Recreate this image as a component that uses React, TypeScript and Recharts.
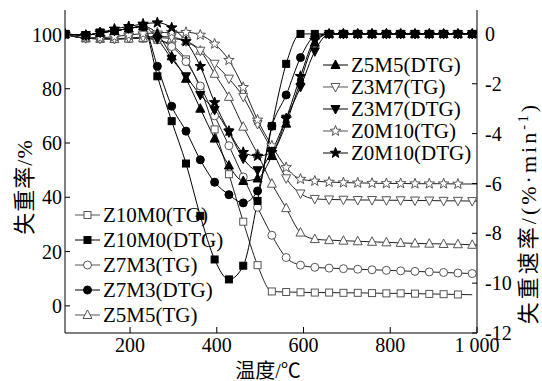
import React from 'react';
import { ComposedChart, Line, XAxis, YAxis } from 'recharts';

// temperature grid (°C), one marker per point
const temps = [50, 98, 131, 164, 197, 230, 263, 296, 329, 362, 395, 428, 461, 494, 527, 560, 593, 626, 659, 692, 725, 758, 791, 824, 857, 890, 923, 956, 989, 1000];

const tempTicks = [200, 400, 600, 800, 1000];
const tgTicks = [0, 20, 40, 60, 80, 100];
const dtgTicks = [0, -2, -4, -6, -8, -10, -12];

// TG curves (mass remaining, %)
const z10m0TG = [100, 98.6, 98.4, 98.3, 98.5, 98.5, 98, 96, 90.8, 80, 65, 48.5, 31, 15, 5.3, 5.1, 5.0, 4.9, 4.9, 4.8, 4.8, 4.7, 4.6, 4.6, 4.5, 4.4, 4.3, 4.2, 4.1, null];
const z7m3TG = [100, 98.6, 98.4, 98.3, 98.5, 98.6, 98, 95.5, 90, 81, 70, 59, 47.5, 36.3, 26, 17.8, 15, 14.2, 13.9, 13.7, 13.5, 13.3, 13.1, 12.9, 12.7, 12.5, 12.3, 12.1, 11.9, 11.8];
const z5m5TG = [100, 98.6, 98.4, 98.3, 98.5, 98.7, 98.8, 98.5, 97.5, 94, 85.5, 77, 66, 56, 45, 36, 27, 24.6, 24.2, 24, 23.8, 23.6, 23.4, 23.2, 23, 22.9, 22.8, 22.7, 22.5, 22.4];
const z3m7TG = [100, 98.6, 98.4, 98.4, 98.7, 99, 99.3, 99, 97.5, 94, 89.2, 83.7, 77, 67, 57.5, 47, 41.4, 39.4, 39.2, 39.1, 39, 39, 38.9, 38.9, 38.8, 38.8, 38.7, 38.7, 38.6, 38.6];
const z0m10TG = [100, 98.8, 98.8, 99.2, 99.8, 100.3, 100.6, 100.8, 100.8, 99.8, 96.5, 90.5, 80.5, 68.5, 59, 51, 46.7, 46, 45.6, 45.4, 45.3, 45.2, 45.1, 45.1, 45, 45, 45, 44.9, 44.9, 44.9];

// DTG curves (%/min)
const z10m0DTG = [0, -0.05, 0.05, 0.12, 0.22, 0.3, -1.7, -3.5, -5.2, -7.3, -9.05, -9.85, -9.3, -6.7, -3.7, -1.2, 0, 0, 0, 0, 0, 0, 0, 0, 0, 0, 0, 0, 0, 0];
const z7m3DTG = [0, -0.05, 0.05, 0.12, 0.22, 0.3, -1.3, -2.9, -3.9, -5.05, -5.95, -6.45, -6.78, -6.3, -3.7, -2.45, -0.95, -0.1, 0, 0, 0, 0, 0, 0, 0, 0, 0, 0, 0, 0];
const z5m5DTG = [0, -0.05, 0.05, 0.12, 0.22, 0.3, 0, -0.9, -1.8, -3.0, -4.2, -5.28, -5.9, -5.8, -4.9, -3.6, -1.9, -0.35, 0, 0, 0, 0, 0, 0, 0, 0, 0, 0, 0, 0];
const z3m7DTG = [0, -0.05, 0.05, 0.12, 0.22, 0.3, -0.2, -1.0, -1.7, -2.45, -3.05, -3.95, -5.0, -5.47, -4.7, -3.4, -2.13, -0.7, 0, 0, 0, 0, 0, 0, 0, 0, 0, 0, 0, 0];
const z0m10DTG = [0, -0.05, 0.05, 0.2, 0.3, 0.4, 0.45, 0.25, -0.3, -1.3, -2.75, -3.9, -4.75, -4.9, -4.75, -3.4, -1.7, -0.25, 0, 0, 0, 0, 0, 0, 0, 0, 0, 0, 0, 0];

type Shape = 'square' | 'circle' | 'up' | 'down' | 'star';

interface Series {
  key: string;
  name: string;
  values: (number | null)[];
  axis: 'tg' | 'dtg';
  shape: Shape;
  filled: boolean;
  lastMark: number;
}

const seriesList: Series[] = [
  { key: 'z10m0TG', name: 'Z10M0(TG)', values: z10m0TG, axis: 'tg', shape: 'square', filled: false, lastMark: 27 },
  { key: 'z10m0DTG', name: 'Z10M0(DTG)', values: z10m0DTG, axis: 'dtg', shape: 'square', filled: true, lastMark: 28 },
  { key: 'z7m3TG', name: 'Z7M3(TG)', values: z7m3TG, axis: 'tg', shape: 'circle', filled: false, lastMark: 28 },
  { key: 'z7m3DTG', name: 'Z7M3(DTG)', values: z7m3DTG, axis: 'dtg', shape: 'circle', filled: true, lastMark: 28 },
  { key: 'z5m5TG', name: 'Z5M5(TG)', values: z5m5TG, axis: 'tg', shape: 'up', filled: false, lastMark: 28 },
  { key: 'z5m5DTG', name: 'Z5M5(DTG)', values: z5m5DTG, axis: 'dtg', shape: 'up', filled: true, lastMark: 28 },
  { key: 'z3m7TG', name: 'Z3M7(TG)', values: z3m7TG, axis: 'tg', shape: 'down', filled: false, lastMark: 28 },
  { key: 'z3m7DTG', name: 'Z3M7(DTG)', values: z3m7DTG, axis: 'dtg', shape: 'down', filled: true, lastMark: 28 },
  { key: 'z0m10TG', name: 'Z0M10(TG)', values: z0m10TG, axis: 'tg', shape: 'star', filled: false, lastMark: 27 },
  { key: 'z0m10DTG', name: 'Z0M10(DTG)', values: z0m10DTG, axis: 'dtg', shape: 'star', filled: true, lastMark: 28 },
];

const data = temps.map((t, i) => {
  const row: Record<string, number | null> = { t };
  seriesList.forEach((s) => {
    row[s.key] = s.values[i];
  });
  return row;
});

const FONT = 'Liberation Serif, Tinos, Times New Roman, DejaVu Serif, serif';
const TITLE_FONT = 'Liberation Serif, Noto Sans CJK SC, serif';

function starPoints(cx: number, cy: number, R: number, r: number) {
  const pts: string[] = [];
  for (let k = 0; k < 10; k++) {
    const a = -Math.PI / 2 + (k * Math.PI) / 5;
    const rad = k % 2 === 0 ? R : r;
    pts.push(`${cx + rad * Math.cos(a)},${cy + rad * Math.sin(a)}`);
  }
  return pts.join(' ');
}

function Marker({ cx, cy, shape, filled }: { cx: number; cy: number; shape: Shape; filled: boolean }) {
  const fill = filled ? '#000' : '#fff';
  const stroke = filled ? '#000' : '#555';
  const common = { fill, stroke, strokeWidth: 1 };
  switch (shape) {
    case 'square':
      return <rect x={cx - 3.5} y={cy - 3.5} width={7} height={7} {...common} />;
    case 'circle':
      return <circle cx={cx} cy={cy} r={4} {...common} />;
    case 'up':
      return <polygon points={`${cx},${cy - 5} ${cx - 4.5},${cy + 3.5} ${cx + 4.5},${cy + 3.5}`} {...common} />;
    case 'down':
      return <polygon points={`${cx},${cy + 5} ${cx - 4.5},${cy - 3.5} ${cx + 4.5},${cy - 3.5}`} {...common} />;
    default:
      return <polygon points={starPoints(cx, cy, 5.5, 2.3)} {...common} />;
  }
}

const makeDot = (s: Series) => (props: any) => {
  const { cx, cy, index } = props;
  const k = `${s.key}-${index}`;
  if (cx == null || cy == null || index > s.lastMark) return <g key={k} />;
  return (
    <g key={k}>
      <Marker cx={cx} cy={cy} shape={s.shape} filled={s.filled} />
    </g>
  );
};

function LegendItem({ s, x, y }: { s: Series; x: number; y: number }) {
  return (
    <g>
      <line x1={x} y1={y} x2={x + 25} y2={y} stroke={s.filled ? '#000' : '#555'} strokeWidth={1} />
      <Marker cx={x + 12.5} cy={y} shape={s.shape} filled={s.filled} />
      <text x={x + 28} y={y + 7} fontSize={21} style={{ fontFamily: FONT }} fill="#000">
        {s.name}
      </text>
    </g>
  );
}

export default function App() {
  const tgFirst = [...seriesList.filter((s) => s.axis === 'tg'), ...seriesList.filter((s) => s.axis === 'dtg')];
  const leftItems = seriesList.slice(0, 5);
  const rightItems = seriesList.slice(5);
  const tickStyle = { fill: '#000', fontSize: 20, style: { fontFamily: FONT } };

  return (
    <div style={{ position: 'absolute', left: 0, top: 0, width: 542, height: 381, background: '#fff', fontFamily: FONT }}>
      <ComposedChart width={542} height={381} data={data} margin={{ top: 10, right: 0, bottom: 0, left: 0 }}>
        <XAxis
          dataKey="t"
          type="number"
          domain={[50, 1000]}
          ticks={tempTicks}
          interval={0}
          allowDataOverflow
          height={48}
          stroke="#000"
          tickSize={-6}
          tickMargin={11}
          tick={tickStyle}
          tickFormatter={(v: number) => (v === 1000 ? '1 000' : String(v))}
        />
        <YAxis
          yAxisId="tg"
          orientation="left"
          domain={[-10, 109]}
          ticks={tgTicks}
          interval={0}
          allowDataOverflow
          width={65}
          stroke="#000"
          tickSize={-5}
          tickMargin={8}
          tick={tickStyle}
        />
        <YAxis
          yAxisId="dtg"
          orientation="right"
          domain={[-12, 0.96]}
          ticks={dtgTicks}
          interval={0}
          allowDataOverflow
          width={65}
          stroke="#000"
          tickSize={-5}
          tickMargin={13}
          tick={{ ...tickStyle, textAnchor: 'start' }}
        />
        {tgFirst.map((s) => (
          <Line
            key={s.key}
            yAxisId={s.axis}
            dataKey={s.key}
            type="monotone"
            stroke={s.filled ? '#000' : '#222'}
            strokeWidth={1}
            dot={makeDot(s)}
            activeDot={false}
            isAnimationActive={false}
          />
        ))}
      </ComposedChart>
      <svg width={542} height={381} style={{ position: 'absolute', left: 0, top: 0, pointerEvents: 'none' }}>
        {leftItems.map((s, i) => (
          <LegendItem key={s.key} s={s} x={75} y={215 + 25 * i} />
        ))}
        {rightItems.map((s, i) => (
          <LegendItem key={s.key} s={s} x={323} y={65 + 22 * i} />
        ))}
        <text transform="translate(32,187) rotate(-90)" textAnchor="middle" fontSize={22} letterSpacing={1} style={{ fontFamily: TITLE_FONT }} fill="#000">
          失重率/%
        </text>
        <text transform="translate(536,213) rotate(-90)" textAnchor="middle" fontSize={22} letterSpacing={3} style={{ fontFamily: TITLE_FONT }} fill="#000">
          <tspan>失重速率/(%·min</tspan>
          <tspan dy={-8} fontSize={14}>-1</tspan>
          <tspan dy={8}>)</tspan>
        </text>
        <text x={268} y={378} textAnchor="middle" fontSize={20} style={{ fontFamily: TITLE_FONT }} fill="#000">
          温度/℃
        </text>
      </svg>
    </div>
  );
}
